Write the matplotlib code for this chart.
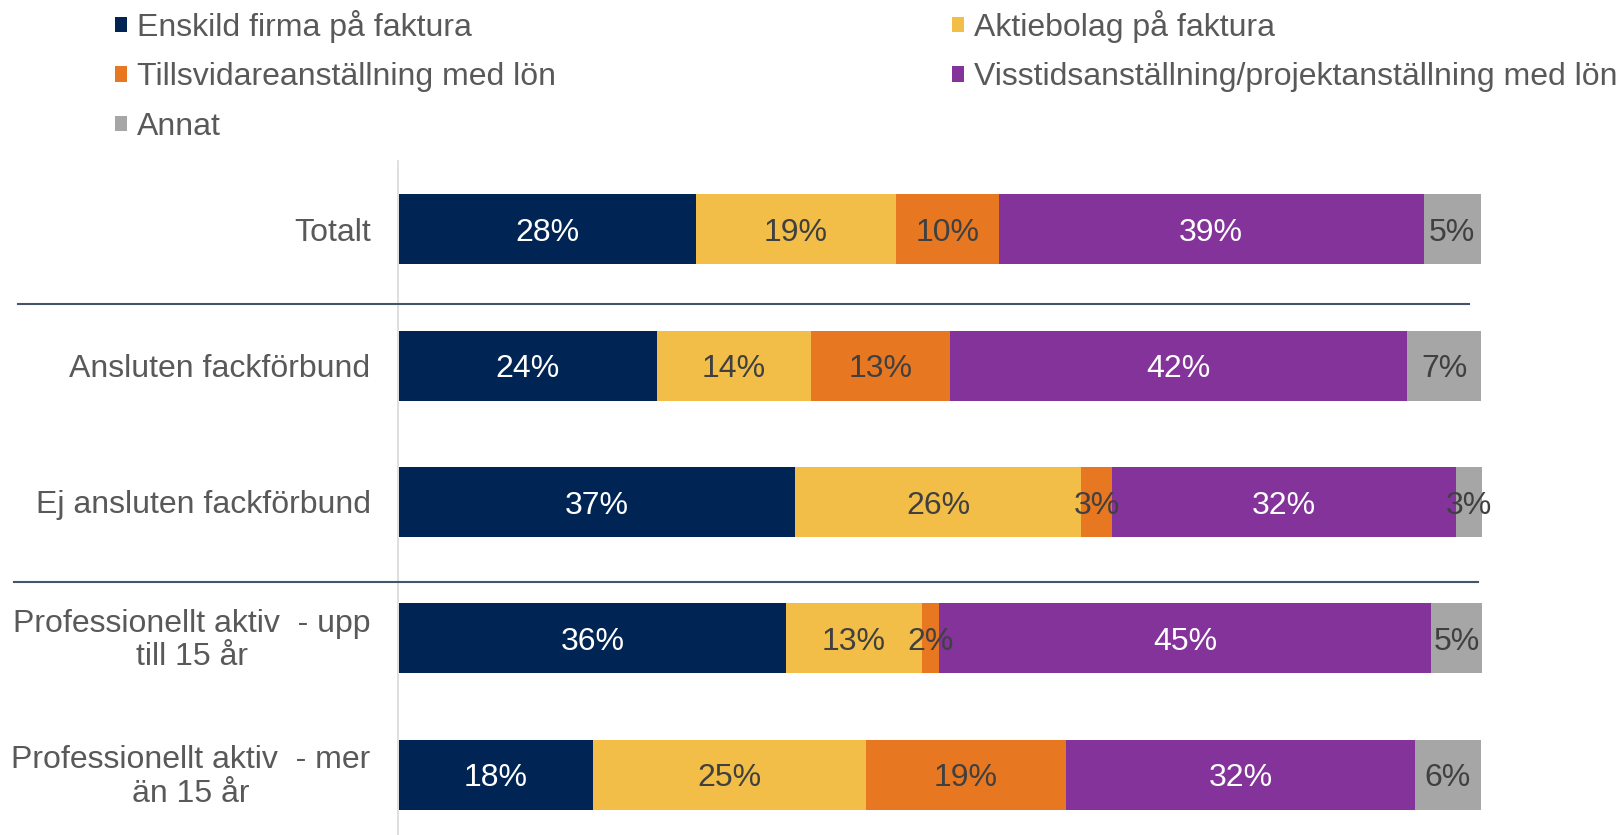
import matplotlib
matplotlib.use("Agg")
import matplotlib.pyplot as plt
from matplotlib.lines import Line2D
from matplotlib.transforms import ScaledTranslation
import numpy as np

plt.rcParams['font.family'] = ['Liberation Sans', 'DejaVu Sans']

categories = [
    "Totalt",
    "Ansluten fackförbund",
    "Ej ansluten fackförbund",
    "Professionellt aktiv  - upp\ntill 15 år",
    "Professionellt aktiv  - mer\nän 15 år",
]
series_names = [
    "Enskild firma på faktura",
    "Aktiebolag på faktura",
    "Tillsvidareanställning med lön",
    "Visstidsanställning/projektanställning med lön",
    "Annat",
]
# bar lengths (share of row, %) as drawn
enskild = [27.4, 23.8, 36.6, 35.7, 17.9]
aktiebolag = [18.5, 14.2, 26.4, 12.6, 25.2]
tillsvidare = [9.5, 12.9, 2.8, 1.6, 18.5]
visstid = [39.2, 42.2, 31.8, 45.4, 32.2]
annat = [5.3, 6.8, 2.5, 4.7, 6.1]
# data labels as printed
enskild_lbl = [28, 24, 37, 36, 18]
aktiebolag_lbl = [19, 14, 26, 13, 25]
tillsvidare_lbl = [10, 13, 3, 2, 19]
visstid_lbl = [39, 42, 32, 45, 32]
annat_lbl = [5, 7, 3, 5, 6]

colors = ["#002454", "#F2BE48", "#E87722", "#833399", "#A6A6A6"]
label_colors = ["white", "#404040", "#404040", "white", "#404040"]

W, H = 1619, 835
fig = plt.figure(figsize=(W / 100, H / 100), dpi=100)
ax_left, ax_right = 399 / W, 1482 / W
ax_top, ax_bot = 1 - 161 / H, 1 - 843 / H
ax = fig.add_axes([ax_left, ax_bot, ax_right - ax_left, ax_top - ax_bot])

for s in ['top', 'right', 'bottom']:
    ax.spines[s].set_visible(False)
ax.spines['left'].set_position(('outward', 1))
ax.spines['left'].set_color('#D9D9D9')
ax.spines['left'].set_linewidth(1.2)
ax.patch.set_alpha(0)

vals = [enskild, aktiebolag, tillsvidare, visstid, annat]
lbls = [enskild_lbl, aktiebolag_lbl, tillsvidare_lbl, visstid_lbl, annat_lbl]
y = np.arange(len(categories))
left = np.zeros(len(categories))
handles = []
for i, name in enumerate(series_names):
    v = np.array(vals[i], dtype=float)
    bars = ax.barh(y, v, left=left, height=0.513, color=colors[i],
                   label=name, edgecolor='none')
    anns = ax.bar_label(bars, labels=[f"{n}%" for n in lbls[i]], label_type='center',
                        color=label_colors[i], fontsize=23)
    for a in anns:
        a.set_va('center_baseline')
    handles.append(bars)
    left += v

ax.set_xlim(0, 100)
ax.set_ylim(len(categories) - 0.5, -0.5)
ax.set_xticks([])
ax.tick_params(axis='y', length=0, pad=19.5, labelsize=23, labelcolor="#595959")
ax.set_yticks(y)
ax.set_yticklabels(categories, multialignment='center', linespacing=1.15)
for t in ax.get_yticklabels():
    if "\n" in t.get_text():
        t.set_transform(t.get_transform() + ScaledTranslation(0, 3 / 100, fig.dpi_scale_trans))

# separator lines
for yy, x0, x1 in [(304, 18, 1469), (582, 14, 1478)]:
    fig.add_artist(Line2D([x0 / W, x1 / W], [1 - yy / H, 1 - yy / H],
                          color='#44546A', lw=1.5, transform=fig.transFigure))

order = [0, 2, 4, 1, 3]
leg = fig.legend([handles[k] for k in order], [series_names[k] for k in order],
                 ncol=2, loc='upper left', bbox_to_anchor=(115 / W, 1 - 10 / H),
                 frameon=False, fontsize=23, borderpad=0, borderaxespad=0,
                 handlelength=0.38, handleheight=0.38, handletextpad=0.3,
                 labelspacing=0.61, columnspacing=12.4)
for t in leg.get_texts():
    t.set_color('#595959')

fig.savefig("out.png", dpi=100)
